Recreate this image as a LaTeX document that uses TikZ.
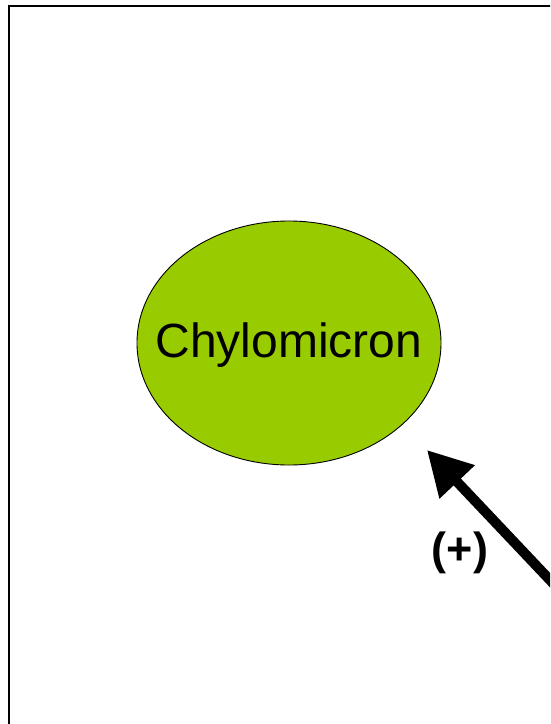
\documentclass[tikz,border=0pt]{standalone}
\usepackage{fontspec}
\setmainfont{Liberation Sans}
\usetikzlibrary{shapes.geometric,arrows.meta}
\definecolor{chylogreen}{HTML}{99CC00}
\tikzset{
  frameline/.style={line width=2pt, black},
  blob/.style={ellipse, draw=black, line width=0.9pt, fill=chylogreen, minimum width=304pt, minimum height=244pt, inner sep=0pt},
  blobtext/.style={inner sep=0pt, font=\fontsize{48}{52}\selectfont},
  bigarrow/.style={line width=10pt, -{Triangle[length=44pt, width=46pt]}},
  signlabel/.style={font=\bfseries\fontsize{45}{49}\selectfont}
}
\begin{document}
\begin{tikzpicture}[x=1pt,y=-1pt]
\useasboundingbox (0,0) rectangle (550,724);
\clip (0,0) rectangle (550,724);
\draw[frameline] (9,730) -- (9,6) -- (560,6);
\node[blob] (chylo) at (289,343) {};
\node[blobtext] (chylolabel) at (289,345) {Chylomicron};
\coordinate (src) at (566,597);
\coordinate (tip) at (427,450);
\draw[bigarrow] (src) -- (tip);
\node[signlabel] (plus) at (460,553) {(+)};
\end{tikzpicture}
\end{document}
